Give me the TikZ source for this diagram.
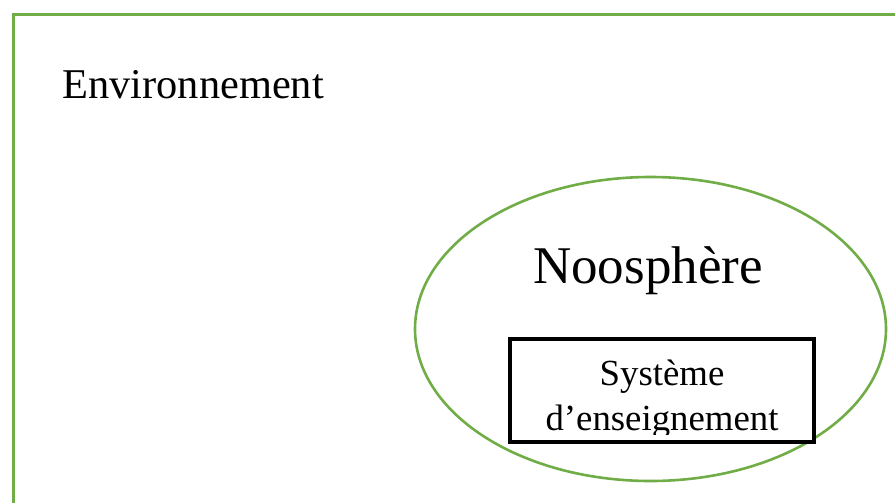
\documentclass[tikz,border=0pt]{standalone}
\usepackage{fontspec}
\setmainfont{Liberation Serif}
\usetikzlibrary{positioning,shapes}
\definecolor{envgreen}{RGB}{112,173,71}
\begin{document}
\begin{tikzpicture}[x=0.5pt,y=-0.5pt,
  envbox/.style={draw=envgreen, line width=1.5pt},
  noobox/.style={draw=envgreen, ellipse, line width=1.3pt, minimum width=235.5pt, minimum height=152pt, inner sep=0pt},
  sysbox/.style={draw, fill=white, line width=1.6pt, minimum width=152pt, minimum height=51.5pt, inner sep=0pt},
  txt/.style={inner sep=0pt, anchor=base}]
\clip (0,0) rectangle (895,503);
\draw[envbox] (13,14) rectangle (910,520);
\node[txt, anchor=base west, font=\fontsize{21.2}{25}\selectfont] (envtxt) at (62,98) {Environnement};
\node[noobox] (noo) at (650.5,329) {};
\node[txt, font=\fontsize{26.5}{30}\selectfont] (nootxt) at (648,283) {Noosphère};
\node[sysbox] (sys) at (662,390.5) {};
\begin{scope}
\clip (sys.north west) rectangle ([yshift=4.5pt]sys.south east);
\node[txt, font=\fontsize{18.4}{22}\selectfont] (systxt1) at (662,385) {Système};
\node[txt, font=\fontsize{18.4}{22}\selectfont] (systxt2) at (662,430) {d’enseignement};
\end{scope}
\end{tikzpicture}
\end{document}
